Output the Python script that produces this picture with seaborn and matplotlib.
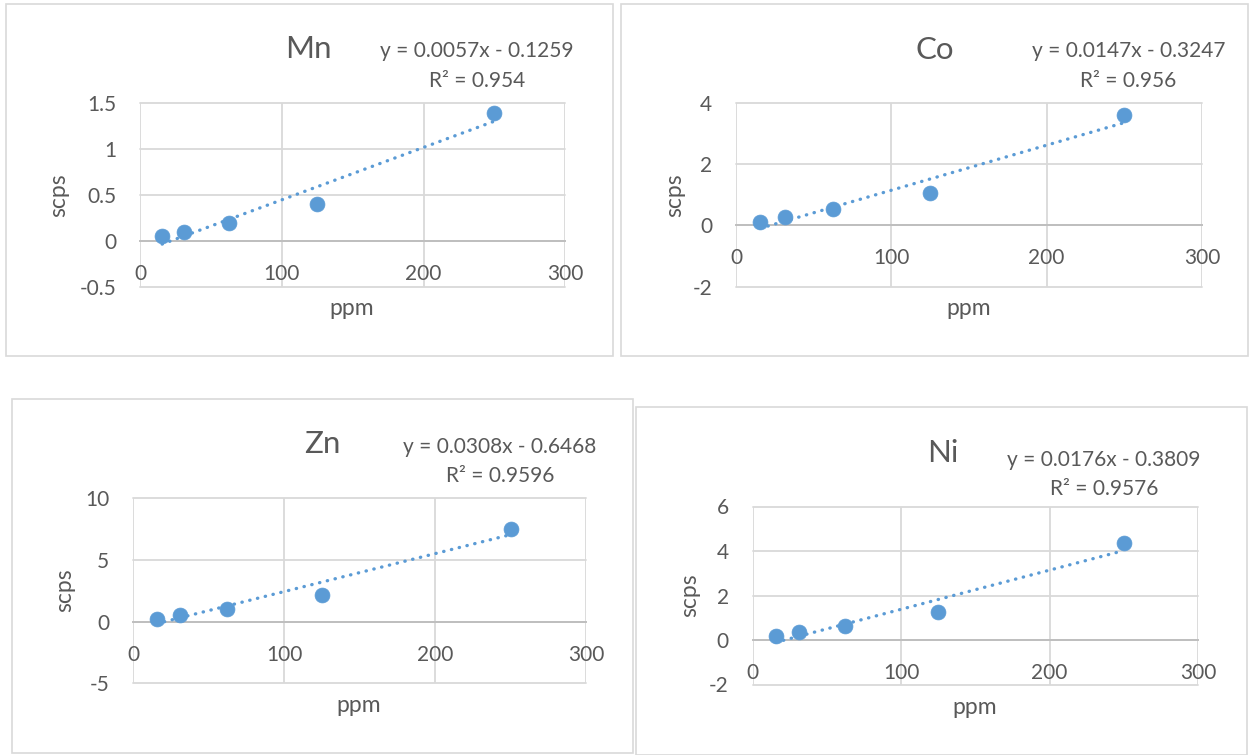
import numpy as np
import pandas as pd
import matplotlib
matplotlib.use("Agg")
import matplotlib.pyplot as plt
from matplotlib.patches import Rectangle
import seaborn as sns

# ---------------- data ----------------
elements = ["Mn", "Co", "Zn", "Ni"]
ppm = [15.625, 31.25, 62.5, 125, 250]
scps_mn = [0.054, 0.098, 0.19, 0.396, 1.385]
scps_co = [0.12, 0.28, 0.52, 1.04, 3.60]
scps_zn = [0.22, 0.57, 1.03, 2.20, 7.54]
scps_ni = [0.19, 0.35, 0.63, 1.27, 4.35]
slopes = [0.0057, 0.0147, 0.0308, 0.0176]
intercepts = [-0.1259, -0.3247, -0.6468, -0.3809]
equations = ["y = 0.0057x - 0.1259", "y = 0.0147x - 0.3247",
             "y = 0.0308x - 0.6468", "y = 0.0176x - 0.3809"]
r2_labels = ["R² = 0.954", "R² = 0.956", "R² = 0.9596", "R² = 0.9576"]
x_ticks = [0, 100, 200, 300]
x_ticklabels = ["0", "100", "200", "300"]
y_ticks = [[-0.5, 0, 0.5, 1, 1.5], [-2, 0, 2, 4], [-5, 0, 5, 10], [-2, 0, 2, 4, 6]]
y_ticklabels = [["-0.5", "0", "0.5", "1", "1.5"], ["-2", "0", "2", "4"],
                ["-5", "0", "5", "10"], ["-2", "0", "2", "4", "6"]]
x_label = "ppm"
y_label = "scps"
series = [scps_mn, scps_co, scps_zn, scps_ni]

# ---------------- layout (pixels) ----------------
W, H = 1249, 755
# plot area: left, top, right, bottom
plot_px = [(140, 102.7, 565.3, 286.7),
           (736, 102.7, 1202, 286.7),
           (133, 498.3, 586, 683.3),
           (752.5, 506.5, 1198, 684.5)]
# outer chart boxes: left, top, right, bottom
box_px = [(6, 4, 612.7, 356),
          (621, 4, 1248, 356),
          (12, 399, 633, 752.7),
          (636, 406.5, 1247, 754.5)]
title_px = [(308, 58.3), (934.5, 59.3), (322, 453.3), (943, 461.7)]
eq_px = [(477, 57.3), (1128.5, 57.3), (499.5, 452.7), (1104, 465.7)]
r2_px = [(477, 87.3), (1128.5, 87.3), (500, 481.7), (1104, 495)]
ylab_px = [(59, 195), (675, 195), (65, 590), (690, 595)]
xlab_px = [(352, 308), (969, 308), (359, 705), (975, 707)]

TEXT = "#595959"
GRID = "#D9D9D9"
ZERO = "#BFBFBF"
BLUE = "#5B9BD5"

sns.set_theme(style="white")
plt.rcParams["font.family"] = ["Lato", "DejaVu Sans"]

fig = plt.figure(figsize=(W / 100, H / 100), dpi=100)
fig.patch.set_facecolor("white")

def fx(px):
    return px / W

def fy(py):
    return 1 - py / H

for i, el in enumerate(elements):
    bl, bt, br, bb = box_px[i]
    fig.patches.append(Rectangle((fx(bl), fy(bb)), fx(br) - fx(bl), fy(bt) - fy(bb),
                                 transform=fig.transFigure, fill=False,
                                 edgecolor=GRID, linewidth=1.2, zorder=0))

    l, t, r, b = plot_px[i]
    ax = fig.add_axes([fx(l), fy(b), fx(r) - fx(l), fy(t) - fy(b)])
    ax.set_facecolor("none")

    df = pd.DataFrame({"ppm": ppm, "scps": series[i]})
    xs = np.array([min(ppm), max(ppm)])
    line_df = pd.DataFrame({"ppm": xs, "fit": slopes[i] * xs + intercepts[i]})

    sns.scatterplot(data=df, x="ppm", y="scps", ax=ax, s=115, color=BLUE,
                    edgecolor=BLUE, linewidth=0.5, zorder=3, clip_on=False)
    sns.lineplot(data=line_df, x="ppm", y="fit", ax=ax, color=BLUE,
                 linewidth=2.4, linestyle=(0, (0.1, 2.3)),
                 dash_capstyle="round", zorder=4)

    ax.set_xlim(0, 300)
    ax.set_ylim(y_ticks[i][0], y_ticks[i][-1])
    ax.set_xticks(x_ticks)
    ax.set_xticklabels(x_ticklabels)
    ax.set_yticks(y_ticks[i])
    ax.set_yticklabels(y_ticklabels[i])

    ax.grid(True, color=GRID, linewidth=1.3)
    for gl in ax.get_xgridlines() + ax.get_ygridlines():
        gl.set_clip_on(False)
    ax.set_axisbelow(True)

    for s in ["top", "right", "left"]:
        ax.spines[s].set_visible(False)
    ax.spines["bottom"].set_position(("data", 0))
    ax.spines["bottom"].set_color(ZERO)
    ax.spines["bottom"].set_linewidth(1.4)

    ax.tick_params(axis="x", length=0, pad=16.5, labelsize=15, labelcolor=TEXT)
    ax.tick_params(axis="y", length=0, pad=17, labelsize=15, labelcolor=TEXT)

    w_ax = r - l
    h_ax = b - t
    ax.set_xlabel(x_label, fontsize=16.5, color=TEXT)
    ax.set_ylabel(y_label, fontsize=16.5, color=TEXT)
    ax.xaxis.set_label_coords((xlab_px[i][0] - l) / w_ax, (b - xlab_px[i][1]) / h_ax)
    ax.xaxis.label.set_va("center")
    ax.yaxis.set_label_coords((ylab_px[i][0] - l) / w_ax, (b - ylab_px[i][1]) / h_ax)
    ax.yaxis.label.set_va("center")

    fig.text(fx(title_px[i][0]), fy(title_px[i][1]), el, fontsize=22.5,
             color=TEXT, ha="center", va="baseline")
    fig.text(fx(eq_px[i][0]), fy(eq_px[i][1]), equations[i], fontsize=15,
             color=TEXT, ha="center", va="baseline")
    fig.text(fx(r2_px[i][0]), fy(r2_px[i][1]), r2_labels[i], fontsize=15,
             color=TEXT, ha="center", va="baseline")

fig.savefig("out.png", dpi=100, facecolor="white")
